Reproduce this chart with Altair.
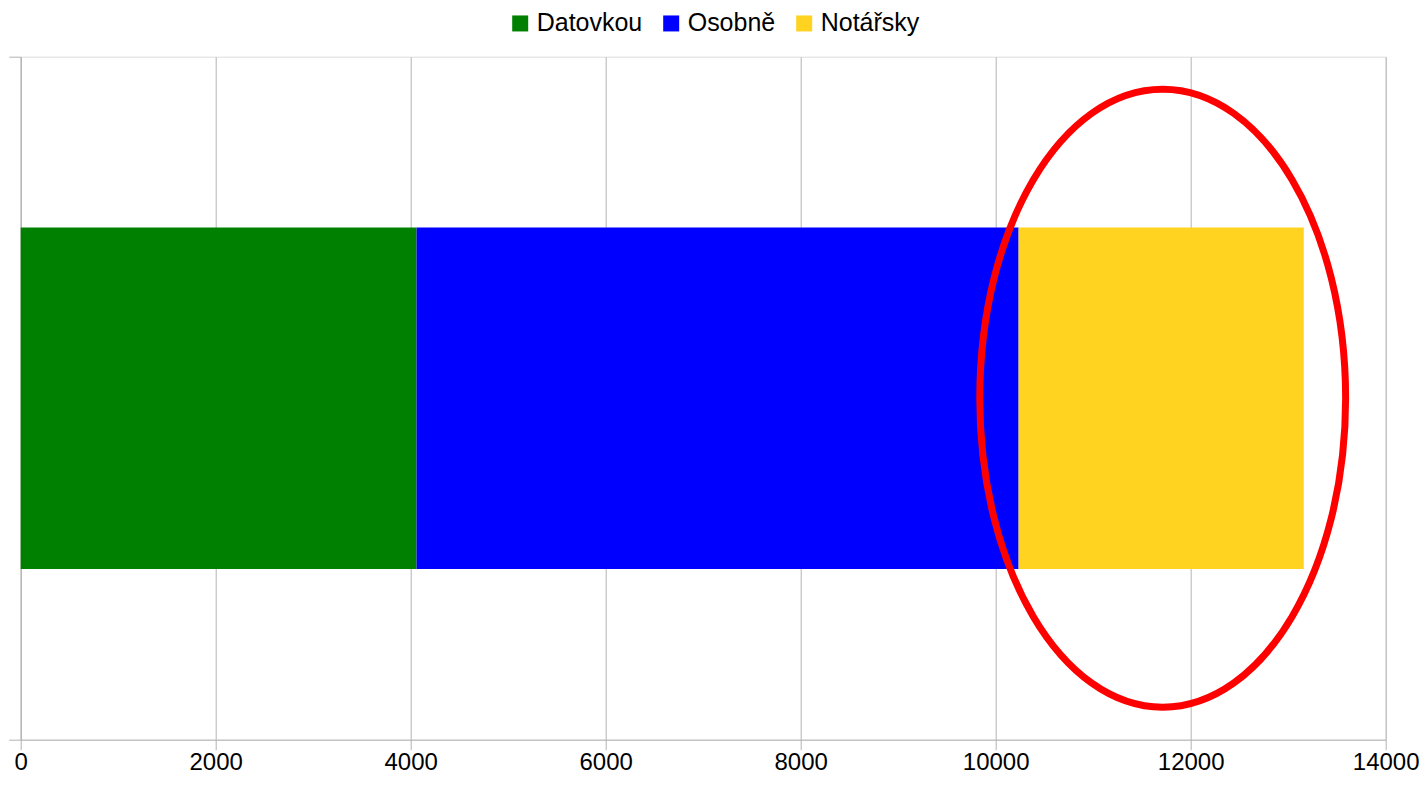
import altair as alt
import pandas as pd

# --- data ---
methods = ["Datovkou", "Osobně", "Notářsky"]
counts = [4060, 6175, 2925]
order_idx = [0, 1, 2]
colors = ["#008000", "#0000ff", "#ffd320"]
row_label = ["Celkem", "Celkem", "Celkem"]

x_ticks = [0, 2000, 4000, 6000, 8000, 10000, 12000, 14000]

# highlight annotation (red ellipse) around the last segment
highlight_x = [11713]
highlight_row = ["Celkem"]

df = pd.DataFrame({"method": methods, "count": counts, "ord": order_idx, "row": row_label})
hl = pd.DataFrame({"x": highlight_x, "row": highlight_row})

FONT = "Liberation Sans"
GRID = "#b3b3b3"

# unit ellipse (cubic bezier approximation), x radius a, y radius 1
a = 0.592
k = 0.5523
ellipse_path = (
    f"M {-a} 0 C {-a} {-k} {-k*a} -1 0 -1 "
    f"C {k*a} -1 {a} {-k} {a} 0 "
    f"C {a} {k} {k*a} 1 0 1 "
    f"C {-k*a} 1 {-a} {k} {-a} 0 Z"
)

x_scale = alt.Scale(domain=[0, 14000], nice=False, zero=True)
y_scale = alt.Scale(paddingInner=0, paddingOuter=0)

bars = alt.Chart(df).mark_bar(height={"band": 0.5}).encode(
    x=alt.X(
        "count:Q",
        stack="zero",
        scale=x_scale,
        axis=alt.Axis(
            values=x_ticks,
            format="d",
            title=None,
            grid=True,
            gridColor=GRID,
            gridWidth=1,
            domainColor=GRID,
            tickColor=GRID,
            tickSize=10,
            labelFont=FONT,
            labelFontSize=24,
            labelColor="#000000",
            labelPadding=1,
            labelFlush=False,
        ),
    ),
    y=alt.Y(
        "row:N",
        scale=y_scale,
        axis=alt.Axis(
            title=None,
            labels=False,
            grid=False,
            domainColor=GRID,
            tickColor=GRID,
            tickSize=12,
            tickBand="extent",
        ),
    ),
    color=alt.Color(
        "method:N",
        scale=alt.Scale(domain=methods, range=colors),
        sort=methods,
        legend=alt.Legend(
            title=None,
            orient="none",
            legendX=487,
            legendY=-46,
            direction="horizontal",
            symbolType="square",
            symbolSize=256,
            symbolStrokeWidth=0,
            labelFont=FONT,
            labelFontSize=25,
            labelColor="#000000",
            labelOffset=4,
            columnPadding=16,
            padding=0,
        ),
    ),
    order=alt.Order("ord:Q"),
)

ring = alt.Chart(hl).mark_point(
    shape=ellipse_path,
    filled=False,
    stroke="#ff0000",
    strokeWidth=7,
    opacity=1,
).encode(
    x=alt.X("x:Q", scale=x_scale),
    y=alt.Y("row:N", scale=y_scale),
    size=alt.value(381924),
)

chart = (
    alt.layer(bars, ring)
    .properties(
        width=1365,
        height=683,
        autosize=alt.AutoSizeParams(type="none"),
        padding={"left": 12.7, "top": 48.7, "right": 33, "bottom": 35.5},
    )
    .configure_view(stroke="#dddddd", strokeWidth=1)
    .configure(background="#ffffff")
)

chart.save("out.html", embed_options={"renderer": "svg", "actions": False})
